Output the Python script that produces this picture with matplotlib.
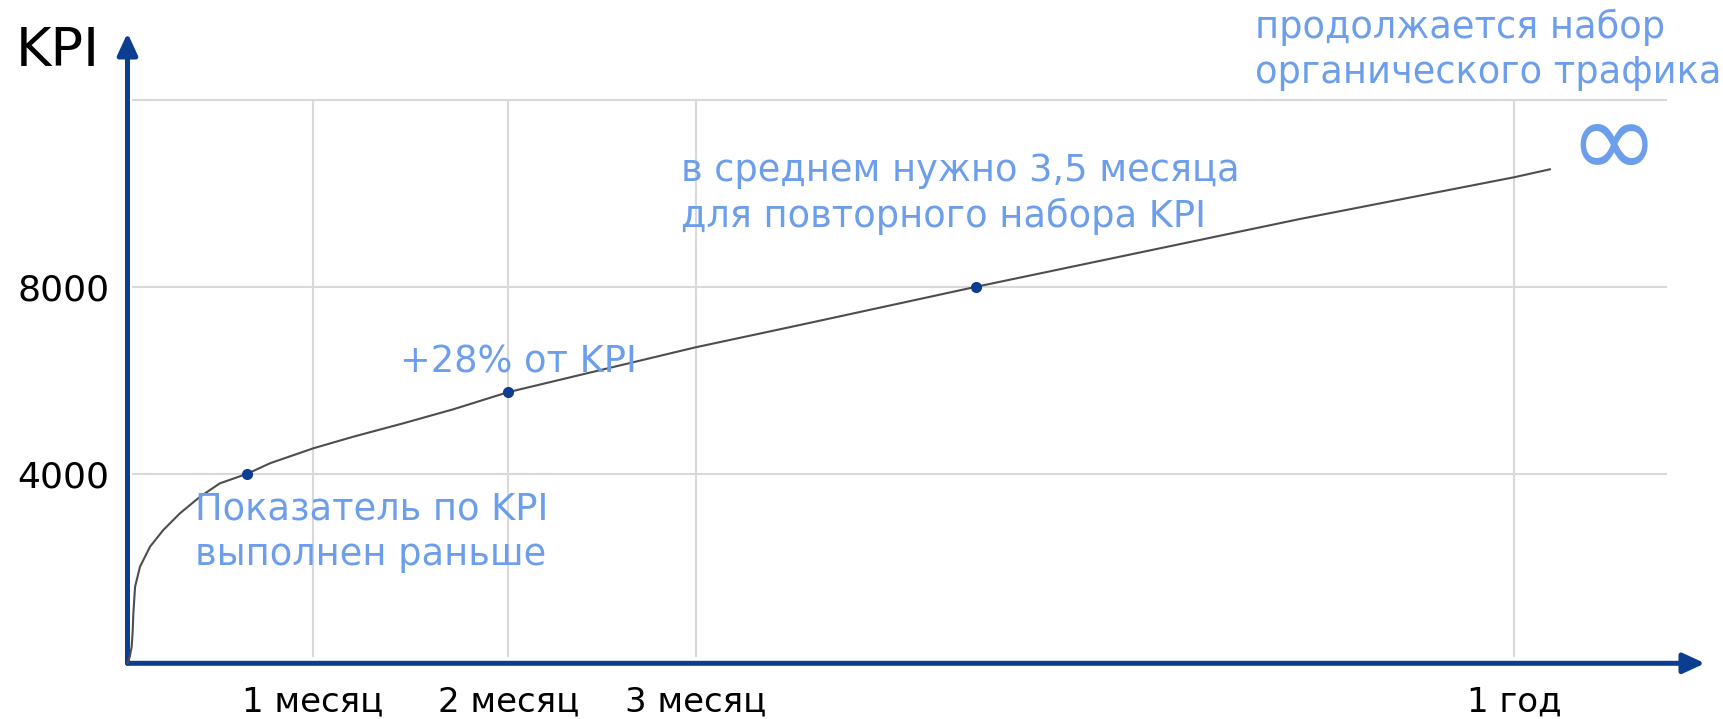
import matplotlib.pyplot as plt
import numpy as np

plt.rcParams['font.family'] = ['DejaVu Sans']

# данные (x - месяцы, y - KPI)
curve_x = [0.0, 0.012, 0.022, 0.027, 0.031, 0.040, 0.066, 0.119, 0.189, 0.277, 0.383,
           0.488, 0.633, 0.752, 0.981, 1.192, 1.456, 1.720, 2.007, 3.0, 3.55, 4.48,
           6.19, 7.32, 7.51]
curve_y = [-60, 80, 293, 600, 1009, 1578, 2006, 2435, 2792, 3150, 3505,
           3792, 3998, 4221, 4542, 4790, 5077, 5377, 5741, 6705, 7182, 8000,
           9452, 10345, 10516]
dot_x = [0.633, 2.007, 4.48]
dot_y = [3998, 5741, 8000]

xtick_pos = [0.98, 2.01, 3.0, 7.32]
xtick_labels = ['1 месяц', '2 месяц', '3 месяц', '1 год']
ytick_pos = [4000, 8000]
ytick_labels = ['4000', '8000']
hgrid = [4000, 8000, 12000]

axis_color = '#0b3d91'
note_color = '#6d9eeb'
grid_color = '#d9d9d9'

fig = plt.figure(figsize=(17.23, 7.19), dpi=100)
ax = fig.add_axes([127.5 / 1723, (719 - 663.3) / 719,
                   (1705 - 127.5) / 1723, (663.3 - 33) / 719])
ax.set_xlim(0, 8.329)
ax.set_ylim(-62, 13435)
for s in ax.spines.values():
    s.set_visible(False)

# сетка
ax.hlines(hgrid, 0.024, 8.13, color=grid_color, lw=1.5, zorder=1)
ax.vlines(xtick_pos, 70, 12000, color=grid_color, lw=1.5, zorder=1)

# оси со стрелками
arrow = dict(arrowstyle='-|>,head_length=1.3,head_width=0.6', color=axis_color,
             lw=3.6, shrinkA=0, shrinkB=0, mutation_scale=10)
ax.annotate('', xy=(0, 1), xytext=(0, 0), xycoords='axes fraction', arrowprops=arrow)
ax.annotate('', xy=(1, 0), xytext=(0, 0), xycoords='axes fraction', arrowprops=arrow)

# кривая и точки
ax.plot(curve_x, curve_y, color='#4d4d4d', lw=1.5, clip_on=False, zorder=3,
        solid_joinstyle='round')
ax.plot(dot_x, dot_y, 'o', color=axis_color, ms=7, zorder=4)

ax.set_xticks(xtick_pos, xtick_labels)
ax.set_yticks(ytick_pos, ytick_labels)
ax.tick_params(length=0, colors='black')
ax.tick_params(axis='x', pad=16, labelsize=24.5)
ax.tick_params(axis='y', pad=13, labelsize=26)

# подписи
ax.text(-0.589, 12728, 'KPI', fontsize=39, color='black', va='baseline', ha='left')
ax.text(0.356, 2043, 'Показатель по KPI\nвыполнен раньше', fontsize=26.5,
        color=note_color, va='baseline', ha='left', linespacing=1.28)
ax.text(1.441, 6161, '+28% от KPI', fontsize=26.5, color=note_color, va='baseline')
ax.text(2.922, 9287, 'в среднем нужно 3,5 месяца\nдля повторного набора KPI',
        fontsize=26.5, color=note_color, va='baseline', linespacing=1.28)
ax.text(5.954, 12370, 'продолжается набор\nорганического трафика', fontsize=26.5,
        color=note_color, va='baseline', linespacing=1.28)
ax.text(7.846, 10972, '∞', fontsize=78, color=note_color, va='center', ha='center')

fig.savefig('out.png', dpi=100)
